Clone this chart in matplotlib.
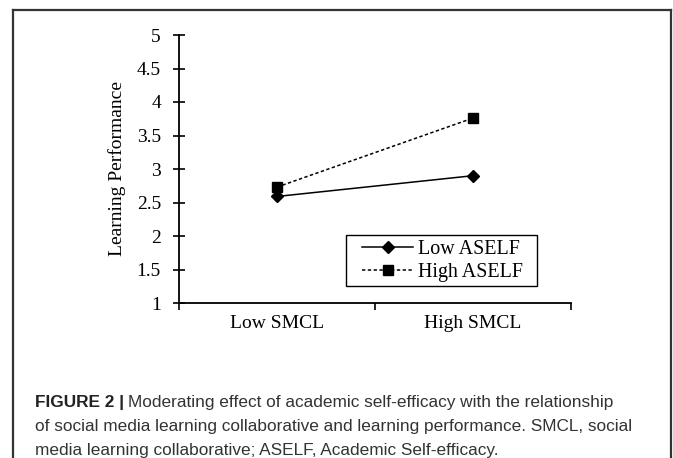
import matplotlib
matplotlib.use("Agg")
import matplotlib.pyplot as plt
from matplotlib.lines import Line2D
from matplotlib.patches import Rectangle

# data
groups = ["Low SMCL", "High SMCL"]
low_aself = [2.59, 2.90]
high_aself = [2.73, 3.76]
series_names = ["Low ASELF", "High ASELF"]
yticks = [1, 1.5, 2, 2.5, 3, 3.5, 4, 4.5, 5]

W, H = 673, 458
fig = plt.figure(figsize=(W / 100, H / 100), dpi=100)
serif = "Liberation Serif"

ax_l, ax_r, ax_t, ax_b = 179, 571, 35, 303
ax = fig.add_axes([ax_l / W, 1 - ax_b / H, (ax_r - ax_l) / W, (ax_b - ax_t) / H])
xpos = [i + 0.5 for i in range(len(groups))]
ax.plot(xpos, low_aself, color="black", lw=1.1, marker="D", ms=6, label=series_names[0])
ax.plot(xpos, high_aself, color="black", lw=1.1, ls=(0, (2.2, 1.6)), marker="s", ms=7.5,
        label=series_names[1])

ax.set_xlim(0, len(groups))
ax.set_ylim(1, 5)
ax.set_yticks(yticks)
ax.set_yticklabels([f"{v:g}" for v in yticks], fontfamily=serif, fontsize=14)
ax.set_xticks(range(len(groups) + 1))
ax.set_xticklabels([])
ax.set_xticks(xpos, minor=True)
ax.set_xticklabels(groups, minor=True, fontfamily=serif, fontsize=14)
ax.tick_params(axis="x", which="minor", length=0, pad=9)
ax.tick_params(axis="x", which="major", direction="out", length=5, width=1.2)
ax.tick_params(axis="y", direction="inout", length=8, width=1.2, pad=9)
for s in ["top", "right"]:
    ax.spines[s].set_visible(False)
for s in ["left", "bottom"]:
    ax.spines[s].set_linewidth(1.3)
ax.set_ylabel("Learning Performance", fontfamily=serif, fontsize=14, labelpad=8)

# legend box drawn separately (wider side padding than matplotlib's default)
def to_ax(px, py):
    return (px - ax_l) / (ax_r - ax_l), (ax_b - py) / (ax_b - ax_t)

bx0, by0 = to_ax(346, 286)
bx1, by1 = to_ax(537, 235)
ax.add_patch(Rectangle((bx0, by0), bx1 - bx0, by1 - by0, transform=ax.transAxes,
                       fill=False, edgecolor="black", lw=1.0, zorder=5))
leg = ax.legend(loc="center", bbox_to_anchor=((bx0 + bx1) / 2 + 0.003, (by0 + by1) / 2),
                borderaxespad=0, frameon=False, handlelength=2.55, handletextpad=0.25,
                borderpad=0.1, labelspacing=0.2, prop={"family": serif, "size": 14.4})

# outer frame (open at bottom)
frame_kw = dict(transform=fig.transFigure, color="#333333", lw=1.6)
fig.add_artist(Line2D([13 / W, 13 / W], [0, 1 - 10 / H], **frame_kw))
fig.add_artist(Line2D([13 / W, 671 / W], [1 - 10 / H, 1 - 10 / H], **frame_kw))
fig.add_artist(Line2D([671 / W, 671 / W], [0, 1 - 10 / H], **frame_kw))

# caption
cap_font = "Liberation Sans"
cap_size = 12.4
x0 = 35 / W
t = fig.text(x0, 1 - 403 / H, "FIGURE 2 |", fontfamily=cap_font, fontsize=cap_size,
             fontweight="bold", color="#222222", va="center")
fig.canvas.draw()
bb = t.get_window_extent()
fig.text(bb.x1 / W + 4 / W, 1 - 403 / H,
         "Moderating effect of academic self-efficacy with the relationship",
         fontfamily=cap_font, fontsize=cap_size, color="#333333", va="center")
fig.text(x0, 1 - 427 / H,
         "of social media learning collaborative and learning performance. SMCL, social",
         fontfamily=cap_font, fontsize=cap_size, color="#333333", va="center")
fig.text(x0, 1 - 450 / H,
         "media learning collaborative; ASELF, Academic Self-efficacy.",
         fontfamily=cap_font, fontsize=cap_size, color="#333333", va="center")

fig.savefig("out.png", dpi=100)
